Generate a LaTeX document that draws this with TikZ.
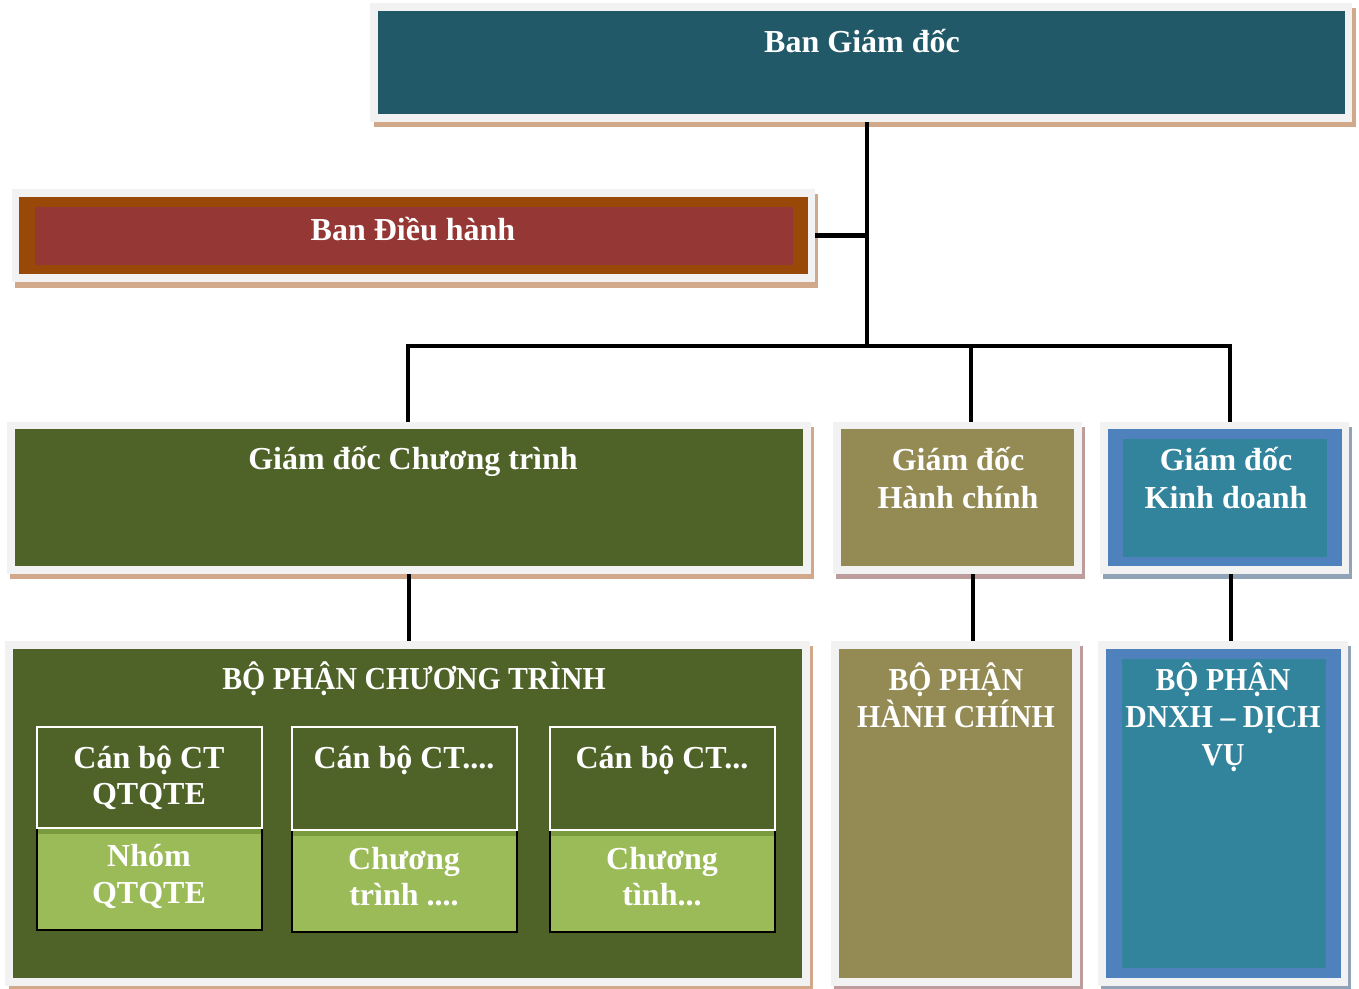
\documentclass[tikz,border=0pt]{standalone}
\usepackage{fontspec}
\setmainfont{Liberation Serif}
\newfontfamily\capsfont{Liberation Serif}[FakeStretch=0.93]
\definecolor{frameGray}{HTML}{F2F2F2}
\definecolor{shTan}{HTML}{D1A98A}
\definecolor{shPink}{HTML}{BC9C9C}
\definecolor{shBlue}{HTML}{91A3B7}
\definecolor{tealA}{HTML}{215968}
\definecolor{orangeB}{HTML}{984807}
\definecolor{redB}{HTML}{953735}
\definecolor{greenC}{HTML}{4F6228}
\definecolor{oliveD}{HTML}{948A54}
\definecolor{blueE}{HTML}{4F81BD}
\definecolor{tealE}{HTML}{31849B}
\definecolor{lightG}{HTML}{9BBB59}
\definecolor{stripeG}{HTML}{7A9A3E}
\newcommand\framenode[5]{\node[frame, minimum width={#4pt-#2pt}, minimum height={#5pt-#3pt}] (#1) at ({(#2+#4)/2},{(#3+#5)/2}) {};}
\tikzset{
  frame/.style={fill=frameGray, draw=none, inner sep=0pt, outer sep=0pt},
  txt/.style={text=white, font=\fontsize{32}{38}\selectfont\bfseries, inner sep=0pt, anchor=base},
  capstxt/.style={txt, font=\fontsize{32}{38}\selectfont\capsfont\bfseries},
  conn/.style={draw=black, line width=4.5pt, line join=miter},
  topsub/.style={draw=white, line width=2pt, fill=greenC},
  botsub/.style={draw=black, line width=2pt, fill=lightG}
}
\begin{document}
\begin{tikzpicture}[x=1pt,y=-1pt]
\useasboundingbox (0,0) rectangle (1359,988);
% shadows
\fill[shTan] (374,8) rectangle (1356,127);
\fill[shTan] (15,194) rectangle (818,288);
\fill[shTan] (10,427) rectangle (814,579);
\fill[shPink] (836,427) rectangle (1085,579);
\fill[shBlue] (1103,427) rectangle (1352,579);
\fill[shTan] (9,646) rectangle (813,990);
\fill[shPink] (834,646) rectangle (1083,990);
\fill[shBlue] (1101,646) rectangle (1351,990);
% frames
\framenode{A}{370}{3}{1352}{122}
\framenode{B}{12}{189}{815}{282}
\framenode{C}{7}{422}{811}{574}
\framenode{D}{833}{422}{1082}{574}
\framenode{E}{1100}{422}{1349}{574}
\framenode{F}{5}{641}{810}{986}
\framenode{G}{831}{641}{1080}{986}
\framenode{H}{1098}{641}{1348}{986}
% inner fills
\fill[tealA] (378,11) rectangle (1345,114);
\fill[orangeB] (19,197) rectangle (808,274);
\fill[redB] (35,207) rectangle (793,265);
\fill[greenC] (15,429) rectangle (803,566);
\fill[oliveD] (841,429) rectangle (1074,566);
\fill[blueE] (1108,429) rectangle (1342,566);
\fill[tealE] (1123,439) rectangle (1327,557);
\fill[greenC] (13,649) rectangle (802,978);
\fill[oliveD] (839,649) rectangle (1072,978);
\fill[blueE] (1106,649) rectangle (1341,978);
\fill[tealE] (1122,659) rectangle (1326,968);
% sub boxes
\draw[botsub] (37,828) rectangle (262,930);
\fill[stripeG] (38,829) rectangle (261,834);
\draw[topsub] (37,727) rectangle (262,828);
\draw[botsub] (292,830) rectangle (517,932);
\fill[stripeG] (293,831) rectangle (516,836);
\draw[topsub] (292,727) rectangle (517,830);
\draw[botsub] (550,830) rectangle (775,932);
\fill[stripeG] (551,831) rectangle (774,836);
\draw[topsub] (550,727) rectangle (775,830);
% texts
\node[txt] (tA) at (862,52) {Ban Giám đốc};
\node[txt] (tB) at (413,240) {Ban Điều hành};
\node[txt] (tC) at (413,469) {Giám đốc Chương trình};
\node[txt] (tD1) at (958,470) {Giám đốc};
\node[txt] (tD2) at (958,508) {Hành chính};
\node[txt] (tE1) at (1226,470) {Giám đốc};
\node[txt] (tE2) at (1226,508) {Kinh doanh};
\node[capstxt] (tF) at (414,689) {BỘ PHẬN CHƯƠNG TRÌNH};
\node[capstxt] (tG1) at (956,690) {BỘ PHẬN};
\node[capstxt] (tG2) at (956,727) {HÀNH CHÍNH};
\node[capstxt] (tH1) at (1223,690) {BỘ PHẬN};
\node[capstxt] (tH2) at (1223,727) {DNXH – DỊCH};
\node[capstxt] (tH3) at (1223,765) {VỤ};
\node[txt] (s1a) at (149,768) {Cán bộ CT};
\node[txt] (s1b) at (149,804) {QTQTE};
\node[txt] (s1c) at (149,866) {Nhóm};
\node[txt] (s1d) at (149,903) {QTQTE};
\node[txt] (s2a) at (404,768) {Cán bộ CT....};
\node[txt] (s2c) at (404,869) {Chương};
\node[txt] (s2d) at (404,905) {trình ....};
\node[txt] (s3a) at (662,768) {Cán bộ CT...};
\node[txt] (s3c) at (662,869) {Chương};
\node[txt] (s3d) at (662,905) {tình...};
% connectors
\coordinate (jA) at (867,346);
\coordinate (jC) at (408,346);
\coordinate (jD) at (971,346);
\coordinate (jE) at (1230,346);
\draw[conn] (A.south -| jA) -- (jA);
\draw[conn] (B.east) -- (B.east -| jA);
\draw[conn] (jC |- C.north) -- (jC) -- (jE) -- (jE |- E.north);
\draw[conn] (jD) -- (jD |- D.north);
\coordinate (kC) at (409,600);
\coordinate (kD) at (973,600);
\coordinate (kE) at (1231,600);
\draw[conn] (kC |- C.south) -- (kC |- F.north);
\draw[conn] (kD |- D.south) -- (kD |- G.north);
\draw[conn] (kE |- E.south) -- (kE |- H.north);
\end{tikzpicture}
\end{document}
